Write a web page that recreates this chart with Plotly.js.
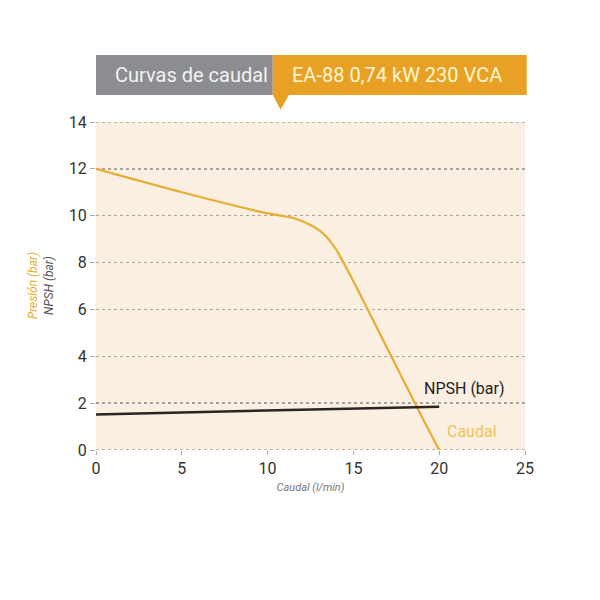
<!DOCTYPE html>
<html>
<head>
<meta charset="utf-8">
<script src="https://cdn.plot.ly/plotly-3.0.1.min.js"></script>
<style>
	html, body { margin: 0; padding: 0; background: #fff; }
	#chart { width: 600px; height: 600px; }
</style>
</head>
<body>
<div id="chart"></div>
<script>
(function () {

	'use strict';

	// flow (l/min) and pressure (bar)
	const caudalX = [0, 5, 10, 11.5, 12.5, 13.3, 14, 15, 17, 19, 20];
	const presionY = [12, 11.0, 10.1, 9.9, 9.6, 9.2, 8.55, 7.2, 4.3, 1.4, 0];

	// NPSH line
	const npshX = [0, 20];
	const npshY = [1.52, 1.85];

	const xTicks = [0, 5, 10, 15, 20, 25];
	const yTicks = [0, 2, 4, 6, 8, 10, 12, 14];

	const gold = '#e6ad32';
	const orange = '#e8a125';
	const grey = '#8c8d90';
	const gridGrey = '#a8a39d';
	const narrow = '"Liberation Sans Narrow", "Arial Narrow", Roboto, sans-serif';

	const presion = {
		x: caudalX,
		y: presionY,
		type: 'scatter',
		mode: 'lines',
		line: { color: gold, width: 2.2, shape: 'spline', smoothing: 0.6 },
		hoverinfo: 'skip'
	};

	const npsh = {
		x: npshX,
		y: npshY,
		type: 'scatter',
		mode: 'lines',
		line: { color: '#2a2522', width: 2.5 },
		hoverinfo: 'skip'
	};

	const axisFont = { family: narrow, size: 16, color: '#333' };

	// edge gridlines (plotly hides the ones on the plot border)
	const edgeLine = ( yv ) => ({
		type: 'line', xref: 'paper', yref: 'y', x0: 0, x1: 1, y0: yv, y1: yv,
		line: { color: gridGrey, width: 1.5, dash: 'dot' }, layer: 'below'
	});

	const layout = {
		width: 600,
		height: 600,
		showlegend: false,
		paper_bgcolor: '#fff',
		plot_bgcolor: '#fbefe2',
		margin: { l: 96, r: 75, t: 122, b: 150 },
		xaxis: {
			range: [0, 25],
			tickvals: xTicks,
			ticktext: xTicks.map(String),
			showgrid: false,
			zeroline: false,
			showline: false,
			ticks: 'outside',
			ticklen: 4,
			tickcolor: '#aaa',
			tickfont: axisFont,
			fixedrange: true,
			title: {
				text: 'Caudal (l/min)',
				font: { family: narrow, size: 11, color: '#777', style: 'italic' },
				standoff: 6
			}
		},
		yaxis: {
			range: [0, 14],
			tickvals: yTicks,
			ticktext: yTicks.map(String),
			showgrid: true,
			gridcolor: gridGrey,
			griddash: 'dot',
			gridwidth: 1.5,
			zeroline: false,
			showline: false,
			ticks: 'outside',
			ticklen: 5,
			tickcolor: '#aaa',
			tickfont: axisFont,
			fixedrange: true
		},
		shapes: [
			edgeLine( yTicks[0] ),
			edgeLine( yTicks[yTicks.length - 1] ),
			// grey banner
			{ type: 'rect', xref: 'paper', yref: 'paper', x0: 0, x1: 0.412, y0: 1.082, y1: 1.204,
				fillcolor: grey, line: { width: 0 }, layer: 'above' },
			// orange banner
			{ type: 'rect', xref: 'paper', yref: 'paper', x0: 0.412, x1: 1.004, y0: 1.082, y1: 1.204,
				fillcolor: orange, line: { width: 0 }, layer: 'above' },
			// pointer
			{ type: 'path', xref: 'paper', yref: 'paper',
				path: 'M 0.412 1.083 L 0.45 1.083 L 0.43 1.037 Z',
				fillcolor: orange, line: { width: 0 }, layer: 'above' }
		],
		annotations: [
			{ xref: 'paper', yref: 'paper', x: 0.405, y: 1.143, xanchor: 'right', yanchor: 'middle',
				text: 'Curvas de caudal', showarrow: false,
				font: { family: narrow, size: 20, color: '#f2f2f2' } },
			{ xref: 'paper', yref: 'paper', x: 0.452, y: 1.143, xanchor: 'left', yanchor: 'middle',
				text: 'EA-88 0,74 kW 230 VCA', showarrow: false,
				font: { family: narrow, size: 20, color: '#fff6d2' } },
			{ xref: 'x', yref: 'y', x: 21.5, y: 2.64, xanchor: 'center', yanchor: 'middle',
				text: 'NPSH (bar)', showarrow: false,
				font: { family: narrow, size: 16, color: '#222' } },
			{ xref: 'x', yref: 'y', x: 21.9, y: 0.77, xanchor: 'center', yanchor: 'middle',
				text: 'Caudal', showarrow: false,
				font: { family: narrow, size: 16, color: '#f0c458' } },
			// y axis title, two lines
			{ xref: 'paper', yref: 'paper', x: -0.128, y: 0.5, xanchor: 'center', yanchor: 'middle',
				textangle: -90, showarrow: false,
				text: '<span style="color:' + gold + '">Presión (bar)</span><br>NPSH (bar)',
				font: { family: narrow, size: 12, color: '#555', style: 'italic' } }
		]
	};

	Plotly.newPlot('chart', [ presion, npsh ], layout, { displayModeBar: false, staticPlot: true });

})();
</script>
</body>
</html>
